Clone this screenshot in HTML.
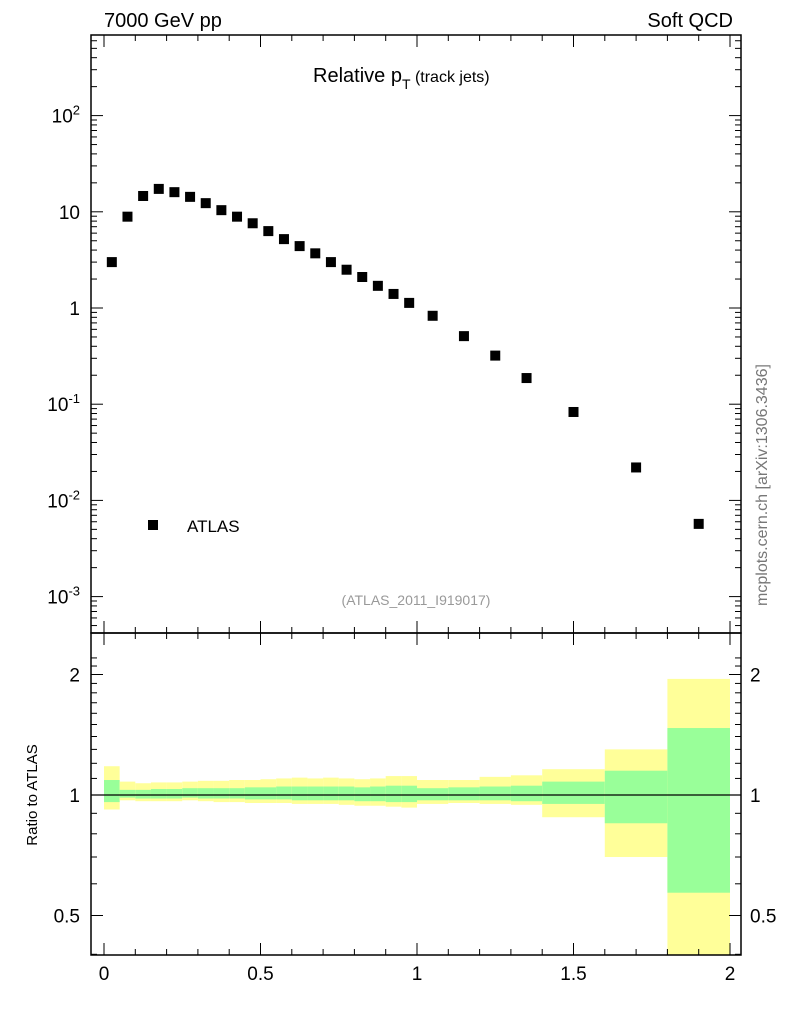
<!DOCTYPE html>
<html><head><meta charset="utf-8"><style>
body{margin:0;background:#fff;}
svg text{font-family:"Liberation Sans",sans-serif;}
</style></head><body>
<svg id="c" width="786" height="1024" xmlns="http://www.w3.org/2000/svg"></svg>
<script>
const binEdges=[0,0.05,0.1,0.15,0.2,0.25,0.3,0.35,0.4,0.45,0.5,0.55,0.6,0.65,0.7,0.75,0.8,0.85,0.9,0.95,1.0,1.1,1.2,1.3,1.4,1.6,1.8,2.0];
const atlasValues=[3.0,8.9,14.6,17.3,16,14.3,12.3,10.4,8.9,7.6,6.3,5.2,4.4,3.7,3.0,2.5,2.1,1.7,1.4,1.13,0.83,0.51,0.32,0.187,0.083,0.022,0.0057];
const yellowUp=[1.18,1.08,1.07,1.075,1.075,1.08,1.085,1.085,1.09,1.09,1.095,1.1,1.105,1.1,1.105,1.1,1.095,1.1,1.115,1.115,1.09,1.09,1.11,1.12,1.16,1.30,1.95];
const yellowLo=[0.92,0.97,0.965,0.965,0.965,0.97,0.965,0.96,0.96,0.955,0.955,0.955,0.95,0.95,0.95,0.945,0.94,0.94,0.935,0.93,0.95,0.955,0.95,0.945,0.88,0.70,0.3];
const greenUp=[1.09,1.03,1.03,1.035,1.035,1.04,1.04,1.04,1.04,1.045,1.045,1.05,1.05,1.05,1.05,1.05,1.045,1.05,1.055,1.055,1.04,1.045,1.05,1.055,1.08,1.15,1.47];
const greenLo=[0.96,0.985,0.98,0.98,0.98,0.985,0.98,0.98,0.98,0.975,0.975,0.975,0.97,0.97,0.97,0.97,0.965,0.965,0.96,0.96,0.97,0.97,0.97,0.965,0.95,0.85,0.57];
const xTicks=[0,0.5,1,1.5,2];
const xTickLabels=["0","0.5","1","1.5","2"];
const yExp=[2,1,0,-1,-2,-3];
const ratioTicks=[0.5,1,2];
const ratioLabels=["0.5","1","2"];

const S=document.getElementById('c');const NS="http://www.w3.org/2000/svg";
const L=91,R=741,T=35,B=633,RB=955;
const X=v=>104+v*313;
const Y=v=>308-Math.log10(v)*96.2;
const RY=v=>795-Math.log2(v)*120.5;
function mk(tag,attrs,parent){const e=document.createElementNS(NS,tag);for(const k in attrs)e.setAttribute(k,attrs[k]);(parent||S).appendChild(e);return e;}
function txt(s,x,y,size,anchor,fill){const t=mk('text',{x:x,y:y,'font-size':size,'text-anchor':anchor||'start',fill:fill||'#000'});t.textContent=s;return t;}

const bands=mk('g',{});


for(let i=0;i<atlasValues.length;i++){
  const x0=X(binEdges[i]),x1=X(binEdges[i+1]);
  const yt=Math.max(RY(yellowUp[i]),B),yb=Math.min(RY(yellowLo[i]),RB);
  const r1=mk('rect',{x:x0,y:yt,width:x1-x0,height:yb-yt,fill:'#ffff99'},bands);
  
  
  const r2=mk('rect',{x:x0,y:RY(greenUp[i]),width:x1-x0,height:RY(greenLo[i])-RY(greenUp[i]),fill:'#99ff99'},bands);
  
  
}
mk('line',{x1:L,x2:R,y1:795,y2:795,stroke:'#000','stroke-width':1.2});

mk('rect',{x:L,y:T,width:R-L,height:B-T,fill:'none',stroke:'#000','stroke-width':1.5});
mk('rect',{x:L,y:B,width:R-L,height:RB-B,fill:'none',stroke:'#000','stroke-width':1.5});

for(let k=0;k<=20;k++){const v=k/10;const x=X(v);const major=k%5===0;const len=major?12:6;
  [[T,1],[B,-1],[B,1],[RB,-1]].forEach(([y,d])=>mk('line',{x1:x,x2:x,y1:y,y2:y+d*len,stroke:'#000','stroke-width':1}));}
xTicks.forEach((v,i)=>{const t=txt(xTickLabels[i],X(v),980,19,'middle');});

for(let e=-4;e<=2;e++){for(let m=1;m<10;m++){const v=m*Math.pow(10,e);const y=Y(v);if(y<T||y>B)continue;const len=m===1?12:6;
  mk('line',{x1:L,x2:L+len,y1:y,y2:y,stroke:'#000'});mk('line',{x1:R,x2:R-len,y1:y,y2:y,stroke:'#000'});}}
yExp.forEach(e=>{const y=Y(Math.pow(10,e))+7;let t;
  if(e===1)t=txt("10",80,y,19,'end');else if(e===0)t=txt("1",80,y,19,'end');
  else{t=mk('text',{x:80,y:y,'font-size':19,'text-anchor':'end'});const a=mk('tspan',{},t);a.textContent="10";const b=mk('tspan',{dy:-8,'font-size':13},t);b.textContent=String(e);}
  });

for(let v=0.4;v<=2.3;v+=0.1){const y=RY(v);if(y<B||y>RB)continue;const maj=[0.5,1,2].some(q=>Math.abs(q-v)<1e-6);const len=maj?12:6;
  mk('line',{x1:L,x2:L+len,y1:y,y2:y,stroke:'#000'});mk('line',{x1:R,x2:R-len,y1:y,y2:y,stroke:'#000'});}
ratioTicks.forEach((v,i)=>{const a=txt(ratioLabels[i],80,RY(v)+7,19,'end');
  const b=txt(ratioLabels[i],750,RY(v)+7,19,'start');});

const pts=mk('g',{});


for(let i=0;i<atlasValues.length;i++){const cx=X((binEdges[i]+binEdges[i+1])/2),cy=Y(atlasValues[i]);
  const p=mk('rect',{x:cx-5,y:cy-5,width:10,height:10,fill:'#000'},pts);
  
  }

let t;
t=txt("7000 GeV pp",104,27,20,'start');
t=txt("Soft QCD",733,27,20,'end');
t=mk('text',{x:313,y:82,'font-size':20});
mk('tspan',{},t).textContent="Relative p";mk('tspan',{dy:7,'font-size':14},t).textContent="T";mk('tspan',{dy:-7,'font-size':16},t).textContent=" (track jets)";
t=txt("(ATLAS_2011_I919017)",416,605,14,'middle','#999');
const lm=mk('rect',{x:148,y:520,width:10,height:10,fill:'#000'});
t=txt("ATLAS",187,532,17,'start');
t=mk('text',{x:0,y:0,'font-size':16,'text-anchor':'middle',fill:'#777',transform:'translate(767,485) rotate(-90)'});t.textContent="mcplots.cern.ch [arXiv:1306.3436]";
t=mk('text',{x:0,y:0,'font-size':15,'text-anchor':'middle',transform:'translate(37,795) rotate(-90)'});t.textContent="Ratio to ATLAS";
</script>
</body></html>
